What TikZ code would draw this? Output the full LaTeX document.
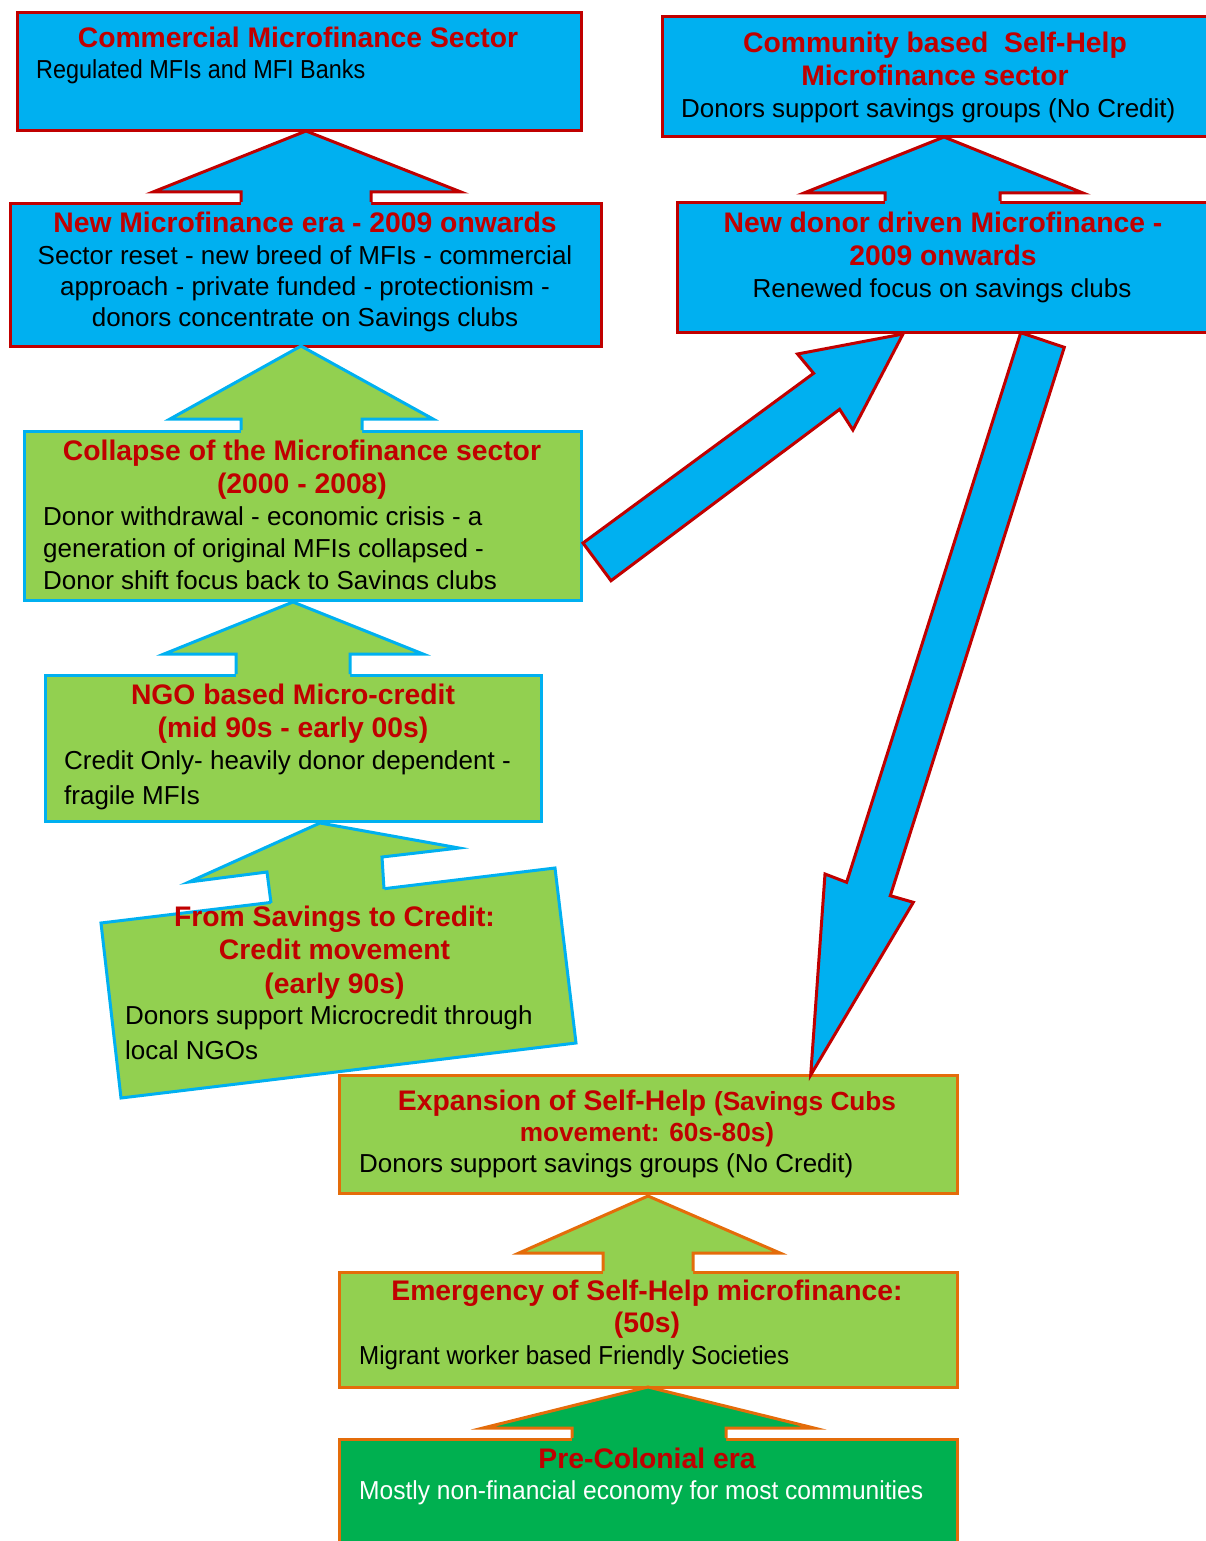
\documentclass[tikz,border=0pt]{standalone}
\usepackage{fontspec}
\setmainfont{Liberation Sans}
\newfontfamily\condA[FakeStretch=0.90]{Liberation Sans}
\newfontfamily\condB[FakeStretch=0.93]{Liberation Sans}
\newfontfamily\condC[FakeStretch=0.945]{Liberation Sans}
\definecolor{cblue}{HTML}{00B0F0}
\definecolor{cred}{HTML}{C00000}
\definecolor{cgreen}{HTML}{92D050}
\definecolor{corange}{HTML}{E46C0A}
\definecolor{cdgreen}{HTML}{00B050}
\newcommand\blockup[9]{%
  \path[#1,draw=none] (#6,#9+4) -- (#6,#4) -- (#5,#4) -- (#2,#3) -- (#8,#4) -- (#7,#4) -- (#7,#9+4) -- cycle;
  \path[#1,fill=none] (#6,#9) -- (#6,#4) -- (#5,#4) -- (#2,#3) -- (#8,#4) -- (#7,#4) -- (#7,#9);}
\tikzset{
  bbox/.style={rectangle, fill=cblue, draw=cred, line width=3pt, inner sep=0pt, anchor=north west},
  gbox/.style={rectangle, fill=cgreen, draw=cblue, line width=3pt, inner sep=0pt, anchor=north west},
  obox/.style={rectangle, fill=cgreen, draw=corange, line width=3pt, inner sep=0pt, anchor=north west},
  dbox/.style={rectangle, fill=cdgreen, draw=corange, line width=3pt, inner sep=0pt, anchor=north west},
  arBR/.style={fill=cblue, draw=cred, line width=3pt},
  arGB/.style={fill=cgreen, draw=cblue, line width=3pt},
  arGO/.style={fill=cgreen, draw=corange, line width=3pt},
  arDO/.style={fill=cdgreen, draw=corange, line width=3pt},
  ttl/.style={anchor=base, text=cred, font=\fontsize{28.3}{34}\selectfont\bfseries, inner sep=0pt},
  ttls/.style={anchor=base, text=cred, font=\fontsize{26.2}{31}\selectfont\bfseries, inner sep=0pt},
  bdy/.style={anchor=base, text=black, font=\fontsize{26}{31}\selectfont, inner sep=0pt},
  bdyL/.style={bdy, anchor=base west},
}
\begin{document}
\begin{tikzpicture}[x=1pt,y=-1pt]
\useasboundingbox (0,0) rectangle (1205,1541);
% ---------- boxes ----------
\node[bbox, minimum width=564pt, minimum height=118pt] (b1) at (16,11) {};
\node[bbox, minimum width=591pt, minimum height=143pt] (b2) at (9,202) {};
\node[gbox, minimum width=557pt, minimum height=169pt] (b3) at (23,430) {};
\node[gbox, minimum width=496pt, minimum height=146pt] (b4) at (44,674) {};
\node[bbox, minimum width=560pt, minimum height=120pt] (b7) at (661,15) {};
\node[bbox, minimum width=545pt, minimum height=130pt] (b6) at (676,201) {};
\coordinate (b5tl) at (101,923);
\coordinate (b5tr) at (555,868);
\coordinate (b5br) at (576,1043);
\coordinate (b5bl) at (121,1098);
\draw[fill=cgreen, draw=cblue, line width=3pt] (b5tl) -- (b5tr) -- (b5br) -- (b5bl) -- cycle;
\node[obox, minimum width=618pt, minimum height=118pt] (b8) at (338,1074) {};
\node[obox, minimum width=618pt, minimum height=115pt] (b9) at (338,1271) {};
\node[dbox, minimum width=618pt, minimum height=130pt] (b10) at (338,1438) {};
% ---------- block arrows ----------
\blockup{arBR}{306}{131}{192}{153}{241}{371}{461}{202}
\blockup{arGB}{301}{346}{419}{170}{241}{362}{433}{430}
\blockup{arGB}{293}{602}{654}{164}{236}{350}{423}{674}
\blockup{arBR}{944}{137}{193}{804}{885}{1000}{1083}{201}
\blockup{arGO}{648}{1196}{1253}{519}{603}{693}{780}{1271}
\blockup{arDO}{648}{1387}{1428}{483}{572}{726}{814}{1438}
% tilted arrow from box 5 to box 4
\path[arGB,draw=none] (272,910) -- (267,872) -- (189,882) -- (320,823) -- (459,848) -- (382,857) -- (385,896) -- cycle;
\path[arGB,fill=none] (271,903) -- (267,872) -- (189,882) -- (320,823) -- (459,848) -- (382,857) -- (384,889);
% diagonal arrow from box 3 to box 6
\draw[arBR] (583,543) -- (813.6,373.3) -- (797.5,354) -- (903,334) -- (852.9,430) -- (839.6,409.3) -- (611,580.7) -- cycle;
% long arrow from box 6 down to box 8
\draw[arBR] (1020.7,332.7) -- (846.6,882.3) -- (825,874) -- (810.7,1075) -- (913.3,902.3) -- (890.3,895.7) -- (1064.3,347.3) -- cycle;
% ---------- texts ----------
\node[ttl] (t1) at (298,48) {Commercial Microfinance Sector};
\node[bdyL] (t1a) at (36,79) {\condA Regulated MFIs and MFI Banks};

\node[ttl] (t2) at (305,232) {New Microfinance era - 2009 onwards};
\node[bdy] (t2a) at (305,264) {Sector reset - new breed of MFIs - commercial};
\node[bdy] (t2b) at (305,295) {approach - private funded - protectionism -};
\node[bdy] (t2c) at (305,326) {donors concentrate on Savings clubs};

\node[ttl] (t3) at (302,460) {Collapse of the Microfinance sector};
\node[ttl] (t3b) at (302,493) {(2000 - 2008)};
\node[bdyL] (t3c) at (43,525) {Donor withdrawal - economic crisis - a};
\node[bdyL] (t3d) at (43,557) {generation of original MFIs collapsed -};
\begin{scope}
\clip (0,0) rectangle (1205,589.5);
\node[bdyL] (t3e) at (43,589) {Donor shift focus back to Savings clubs};
\end{scope}

\node[ttl] (t4) at (293,704) {NGO based Micro-credit};
\node[ttl] (t4b) at (293,737) {(mid 90s - early 00s)};
\node[bdyL] (t4c) at (64,769) {Credit Only- heavily donor dependent -};
\node[bdyL] (t4d) at (64,804) {fragile MFIs};

\node[ttl] (t5) at (334.5,926) {From Savings to Credit:};
\node[ttl] (t5b) at (334.5,959) {Credit movement};
\node[ttl] (t5c) at (334.5,993) {(early 90s)};
\node[bdyL] (t5d) at (125,1024) {Donors support Microcredit through};
\node[bdyL] (t5e) at (125,1059) {local NGOs};

\node[ttl] (t7) at (935,53) {Community based~~Self-Help};
\node[ttl] (t7b) at (935,86) {Microfinance sector};
\node[bdyL] (t7c) at (681,118) {Donors support savings groups (No Credit)};

\node[ttl] (t6) at (943,232) {New donor driven Microfinance -};
\node[ttl] (t6b) at (943,265) {2009 onwards};
\node[bdy] (t6c) at (942,297) {Renewed focus on savings clubs};

\node[ttl] (t8) at (647,1110) {Expansion of Self-Help {\fontsize{26.2}{31}\selectfont(Savings Cubs}};
\node[ttls] (t8b) at (647,1141) {movement: 60s-80s)};
\node[bdyL] (t8c) at (359,1172) {Donors support savings groups (No Credit)};

\node[ttl] (t9) at (647,1300) {Emergency of Self-Help microfinance:};
\node[ttl] (t9b) at (647,1332) {(50s)};
\node[bdyL] (t9c) at (359,1364) {\condB Migrant worker based Friendly Societies};

\node[ttl] (t10) at (647,1468) {Pre-Colonial era};
\node[bdyL, text=white] (t10b) at (359,1499) {\condC Mostly non-financial economy for most communities};
\end{tikzpicture}
\end{document}
